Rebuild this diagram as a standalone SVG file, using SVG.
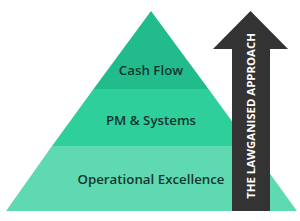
<svg xmlns="http://www.w3.org/2000/svg" width="300" height="221" viewBox="0 0 300 221">
<style>
.lbl{font-family:"Open Sans","Noto Sans",sans-serif;font-weight:600;font-size:13.3px;fill:#153630;text-anchor:middle}
.arr{font-family:"Open Sans","Noto Sans",sans-serif;font-weight:700;font-size:11.4px;fill:#ffffff;text-anchor:middle}
</style>
<rect width="300" height="221" fill="#ffffff"/>
<g id="tier-cash-flow">
<polygon points="151,11 208.5,89 93.5,89" fill="#22bc8c"/>
<text class="lbl" x="151" y="75">Cash Flow</text>
</g>
<g id="tier-pm-systems">
<polygon points="93.5,89 208.5,89 250,146 52,146" fill="#2fcf9b"/>
<text class="lbl" x="151" y="125">PM &amp; Systems</text>
</g>
<g id="tier-operational">
<polygon points="52,146 250,146 297,211 6,211" fill="#5fd9b2"/>
<text class="lbl" x="151" y="184">Operational Excellence</text>
</g>
<g id="arrow">
<polygon points="250.5,11 288,49 270,49 270,211 232,211 232,49 213,49" fill="#333333"/>
<text class="arr" transform="translate(254.8,116) rotate(-90)">THE LAWGANISED APPROACH</text>
</g>
<g id="connectors"/>
</svg>
